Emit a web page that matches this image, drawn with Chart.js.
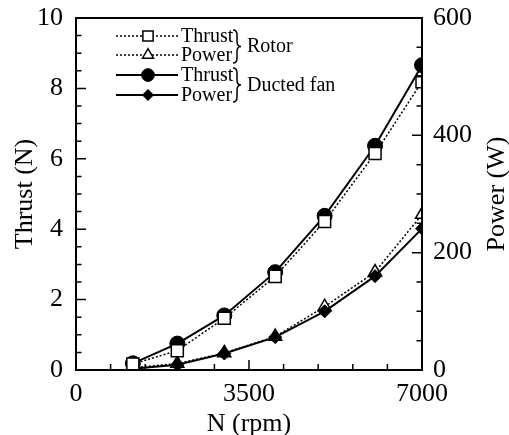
<!DOCTYPE html>
<html lang="en">
<head>
  <meta charset="UTF-8">
  <title>Thrust and power vs rpm</title>
  <script src="https://cdn.jsdelivr.net/npm/chart.js"></script>
  <style>
    html, body { margin: 0; padding: 0; background: #fff; }
    #wrap { width: 509px; height: 435px; }
  </style>
</head>
<body>
<div id="wrap"><canvas id="grafica" width="509" height="435"></canvas></div>
<script>
  // values
  const rpm = [1150, 2050, 3000, 4030, 5030, 6050, 7000];
  const rotorThrust = [0.17, 0.55, 1.47, 2.66, 4.22, 6.15, 8.19];
  const fanThrust = [0.19, 0.75, 1.55, 2.78, 4.38, 6.37, 8.66];
  const rotorPower = [4, 11, 29, 57, 108, 167, 265];
  const fanPower = [2, 9, 28, 56, 100, 160, 241];

  const xTicks = [0, 3500, 7000];
  const thrustTicks = [0, 2, 4, 6, 8, 10];
  const powerTicks = [0, 200, 400, 600];
  const rowLabels = ['Thrust', 'Power', 'Thrust', 'Power'];
  const groupLabels = ['Rotor', 'Ducted fan'];

  const serif = '"Liberation Serif", "DejaVu Serif", serif';
  const tickFont = { family: serif, size: 26 };

  const pts = arr => rpm.map((x, i) => ({ x: x, y: arr[i] }));

  // legend rows in the order they appear, top to bottom
  const datasets = [
    { label: rowLabels[0], data: pts(rotorThrust), yAxisID: 'y', order: 0,
      borderColor: '#000', borderWidth: 1.5, borderDash: [2, 2],
      pointStyle: 'rect', pointRadius: 8.5, pointBackgroundColor: '#fff', pointBorderWidth: 1.5 },
    { label: rowLabels[1], data: pts(rotorPower), yAxisID: 'y2', order: 3,
      borderColor: '#000', borderWidth: 1.5, borderDash: [2, 2],
      pointStyle: 'triangle', pointRadius: 7.5, pointBackgroundColor: '#fff', pointBorderWidth: 1.5 },
    { label: rowLabels[2], data: pts(fanThrust), yAxisID: 'y', order: 2,
      borderColor: '#000', borderWidth: 2,
      pointStyle: 'circle', pointRadius: 7.5, pointBackgroundColor: '#000', pointBorderWidth: 1 },
    { label: rowLabels[3], data: pts(fanPower), yAxisID: 'y2', order: 1,
      borderColor: '#000', borderWidth: 2,
      pointStyle: 'rectRot', pointRadius: 6.5, pointBackgroundColor: '#000', pointBorderWidth: 1 }
  ];
  datasets.forEach(d => { d.fill = false; d.tension = 0; d.pointBorderColor = '#000'; d.pointHoverRadius = d.pointRadius; });

  function brace(ctx, x, y1, y2, w) {
    const ym = (y1 + y2) / 2, r = 5;
    ctx.beginPath();
    ctx.moveTo(x, y1);
    ctx.quadraticCurveTo(x + w / 2, y1, x + w / 2, y1 + r);
    ctx.lineTo(x + w / 2, ym - r);
    ctx.quadraticCurveTo(x + w / 2, ym, x + w, ym);
    ctx.quadraticCurveTo(x + w / 2, ym, x + w / 2, ym + r);
    ctx.lineTo(x + w / 2, y2 - r);
    ctx.quadraticCurveTo(x + w / 2, y2, x, y2);
    ctx.stroke();
  }

  const decor = {
    id: 'decor',
    afterDraw(chart) {
      const ctx = chart.ctx;
      const a = chart.chartArea;
      const sx = chart.scales.x, sy = chart.scales.y, sp = chart.scales.y2;
      ctx.save();
      ctx.strokeStyle = '#000';
      ctx.fillStyle = '#000';

      // frame
      ctx.lineWidth = 2;
      ctx.strokeRect(a.left, a.top, a.right - a.left, a.bottom - a.top);

      // inward ticks
      ctx.lineWidth = 1.5;
      ctx.beginPath();
      for (let v = 0; v <= 7000; v += 700) {
        const p = sx.getPixelForValue(v);
        const L = v % 3500 === 0 ? 10 : 6;
        ctx.moveTo(p, a.bottom); ctx.lineTo(p, a.bottom - L);
      }
      for (let v = 0; v <= 10; v += 0.5) {
        const p = sy.getPixelForValue(v);
        const L = v % 2 === 0 ? 10 : 5.5;
        ctx.moveTo(a.left, p); ctx.lineTo(a.left + L, p);
      }
      for (let v = 0; v <= 600; v += 50) {
        const p = sp.getPixelForValue(v);
        const L = v % 200 === 0 ? 10 : 5.5;
        ctx.moveTo(a.right, p); ctx.lineTo(a.right - L, p);
      }
      ctx.stroke();

      // right axis title, reading bottom to top
      ctx.font = '26px ' + serif;
      ctx.textAlign = 'center';
      ctx.textBaseline = 'middle';
      ctx.save();
      ctx.translate(497, (a.top + a.bottom) / 2);
      ctx.rotate(-Math.PI / 2);
      ctx.fillText('Power (W)', 0, 0);
      ctx.restore();

      // legend
      const rowY = [36, 55, 75, 95];
      chart.data.datasets.forEach((d, i) => {
        const y = rowY[i];
        ctx.save();
        ctx.lineWidth = d.borderWidth;
        ctx.setLineDash(d.borderDash || []);
        ctx.beginPath();
        ctx.moveTo(116, y); ctx.lineTo(178, y);
        ctx.stroke();
        ctx.restore();
        ctx.save();
        ctx.fillStyle = d.pointBackgroundColor;
        ctx.strokeStyle = d.pointBorderColor;
        ctx.lineWidth = d.pointBorderWidth;
        Chart.helpers.drawPoint(ctx, { pointStyle: d.pointStyle, radius: d.pointRadius * 0.85, borderWidth: d.pointBorderWidth }, 148, y);
        ctx.restore();
        ctx.font = '20px ' + serif;
        ctx.textAlign = 'left';
        ctx.textBaseline = 'middle';
        ctx.fillText(d.label, 181, y + 1);
      });
      ctx.lineWidth = 1.5;
      brace(ctx, 233, 30, 63, 8);
      brace(ctx, 233, 68, 102, 8);
      ctx.font = '20px ' + serif;
      ctx.textAlign = 'left';
      ctx.textBaseline = 'middle';
      ctx.fillText(groupLabels[0], 247, 47);
      ctx.fillText(groupLabels[1], 247, 86);
      ctx.restore();
    }
  };

  const axisBase = {
    grid: { display: false, drawTicks: false },
    border: { display: false }
  };

  // fixed axis box sizes, no extra label overhang padding
  const fixBox = (w, h) => s => {
    if (w) s.width = w;
    if (h) s.height = h;
    s.paddingTop = 0; s.paddingBottom = 0; s.paddingLeft = 0; s.paddingRight = 0;
  };

  new Chart(document.getElementById('grafica').getContext('2d'), {
    type: 'line',
    data: { datasets: datasets },
    plugins: [decor],
    options: {
      responsive: false,
      animation: false,
      devicePixelRatio: 1,
      layout: { padding: { top: 18, left: 0, right: 0, bottom: 0 } },
      plugins: { legend: { display: false }, tooltip: { enabled: false } },
      scales: {
        x: Object.assign({}, axisBase, {
          type: 'linear', min: 0, max: 7000,
          afterBuildTicks: s => { s.ticks = xTicks.map(v => ({ value: v })); },
          ticks: { font: tickFont, color: '#000', padding: 9, maxRotation: 0, autoSkip: false, callback: v => String(v) },
          title: { display: true, text: 'N (rpm)', font: tickFont, color: '#000', padding: { top: -6, bottom: -5 } },
          afterFit: fixBox(0, 65)
        }),
        y: Object.assign({}, axisBase, {
          position: 'left', min: 0, max: 10,
          afterBuildTicks: s => { s.ticks = thrustTicks.map(v => ({ value: v })); },
          ticks: { font: tickFont, color: '#000', padding: 13, callback: v => String(v) },
          title: { display: true, text: 'Thrust (N)', font: tickFont, color: '#000', padding: { top: 10, bottom: 0 } },
          afterFit: fixBox(76, 0)
        }),
        y2: Object.assign({}, axisBase, {
          position: 'right', min: 0, max: 600,
          afterBuildTicks: s => { s.ticks = powerTicks.map(v => ({ value: v })); },
          ticks: { font: tickFont, color: '#000', padding: 11, callback: v => String(v) },
          afterFit: fixBox(87, 0)
        })
      }
    }
  });
</script>
</body>
</html>
